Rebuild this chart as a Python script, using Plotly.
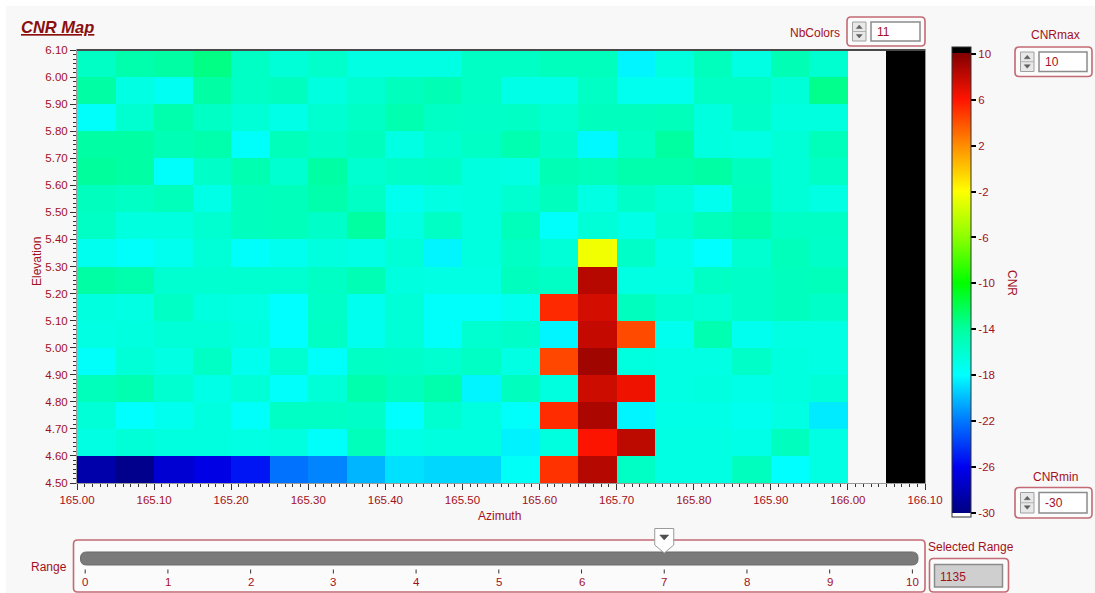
import plotly.graph_objects as go

# ---------------- data ----------------
azimuth_edges = [165.00, 165.05, 165.10, 165.15, 165.20, 165.25, 165.30, 165.35, 165.40, 165.45,
                 165.50, 165.55, 165.60, 165.65, 165.70, 165.75, 165.80, 165.85, 165.90, 165.95,
                 166.00, 166.05, 166.10]
elevation_edges = [4.50, 4.60, 4.70, 4.80, 4.90, 5.00, 5.10, 5.20, 5.30, 5.40,
                   5.50, 5.60, 5.70, 5.80, 5.90, 6.00, 6.10]

# CNR (dB) per cell, rows listed from top (6.00-6.10) to bottom (4.50-4.60),
# 20 azimuth bins from 165.00 to 166.00
cnr_rows_top_down = [
    [-15.5, -14.5, -14.2, -13.3, -15.5, -16.3, -15.8, -16.8, -16.8, -16.8, -15.5, -15.5, -15.2, -15.2, -18.3, -16.6, -15.2, -16.8, -14.9, -16.0],
    [-14.2, -16.8, -17.5, -14.2, -15.5, -15.3, -16.6, -16.0, -15.3, -14.9, -15.5, -17.0, -17.0, -15.5, -17.3, -17.3, -15.5, -15.5, -16.3, -13.5],
    [-17.8, -16.0, -14.5, -15.5, -16.3, -17.0, -16.0, -15.5, -14.7, -15.5, -15.7, -15.5, -16.0, -15.3, -15.3, -15.1, -16.6, -15.7, -16.6, -16.6],
    [-14.2, -14.2, -14.9, -14.5, -17.8, -15.1, -15.7, -15.3, -16.8, -16.0, -15.5, -14.7, -15.7, -18.2, -15.5, -14.0, -16.6, -16.8, -16.3, -15.1],
    [-13.9, -14.2, -17.8, -15.7, -14.7, -16.0, -14.2, -16.0, -15.7, -15.5, -16.6, -16.8, -14.9, -15.1, -14.5, -14.5, -14.2, -15.3, -16.3, -15.5],
    [-15.3, -15.5, -15.1, -17.0, -15.3, -15.1, -14.5, -15.5, -17.3, -16.8, -16.6, -16.0, -15.3, -16.8, -15.7, -16.3, -17.3, -15.1, -16.3, -16.8],
    [-15.5, -16.6, -16.6, -16.0, -15.3, -15.1, -15.7, -14.0, -16.8, -15.5, -16.6, -15.1, -17.8, -16.3, -17.0, -16.0, -15.1, -14.5, -15.5, -15.5],
    [-17.3, -17.8, -17.3, -16.3, -17.8, -17.3, -16.6, -17.0, -16.3, -18.3, -16.6, -15.5, -16.3, -2.5, -15.7, -17.0, -18.0, -16.0, -15.1, -15.7],
    [-14.2, -14.5, -16.0, -16.0, -16.0, -16.0, -15.5, -14.9, -16.6, -16.8, -16.8, -15.3, -15.5, 8.3, -16.8, -16.8, -15.5, -15.7, -15.3, -15.1],
    [-16.6, -16.8, -15.5, -16.6, -16.8, -18.0, -15.7, -17.3, -16.3, -17.8, -17.8, -17.3, 5.3, 7.4, -15.3, -16.0, -16.3, -15.7, -15.3, -15.7],
    [-16.8, -16.6, -16.3, -16.3, -16.6, -18.0, -15.5, -17.3, -16.3, -17.8, -16.0, -15.7, -18.3, 7.9, 4.2, -17.3, -14.7, -17.3, -16.8, -16.8],
    [-17.8, -16.3, -16.8, -15.5, -17.3, -16.0, -17.8, -15.5, -15.7, -16.0, -15.5, -16.8, 4.3, 9.0, -16.6, -16.8, -16.8, -15.7, -16.6, -16.8],
    [-15.1, -14.7, -16.0, -17.0, -16.3, -17.8, -16.3, -14.5, -15.3, -14.5, -18.3, -15.3, -16.6, 7.6, 6.5, -16.8, -16.6, -17.0, -16.6, -16.3],
    [-16.3, -18.0, -17.3, -16.6, -17.8, -15.5, -15.5, -15.7, -18.0, -16.0, -16.6, -17.8, 5.2, 8.7, -18.3, -17.0, -17.0, -17.3, -16.8, -18.6],
    [-16.8, -16.3, -16.6, -16.6, -16.8, -16.6, -17.8, -15.1, -17.0, -16.6, -16.6, -18.4, -16.6, 6.1, 8.1, -16.8, -16.8, -17.0, -15.3, -16.8],
    [-28.5, -29.6, -27.1, -26.4, -25.3, -22.2, -21.6, -20.2, -18.9, -19.2, -19.2, -17.6, 5.0, 8.4, -15.5, -16.8, -16.8, -15.3, -18.0, -16.8],
]
# extra bins: 166.00-166.05 has no data, 166.05-166.10 is above CNRmax
extra_bins = [None, 99.0]

azimuth_ticks = ["165.00", "165.10", "165.20", "165.30", "165.40", "165.50", "165.60",
                 "165.70", "165.80", "165.90", "166.00", "166.10"]
elevation_ticks = ["4.50", "4.60", "4.70", "4.80", "4.90", "5.00", "5.10", "5.20",
                   "5.30", "5.40", "5.50", "5.60", "5.70", "5.80", "5.90", "6.00", "6.10"]
cbar_ticks = [10, 6, 2, -2, -6, -10, -14, -18, -22, -26, -30]
cbar_colors = ["#820000", "#ff1400", "#ff8c00", "#ffff00", "#8cff00", "#00ff00",
               "#00ffa0", "#00ffff", "#0078ff", "#0000f0", "#000082"]
nb_colors = 11
cnr_max = 10
cnr_min = -30
range_ticks = [0, 1, 2, 3, 4, 5, 6, 7, 8, 9, 10]
range_value = 7
selected_range = 1135

# ---------------- layout helpers ----------------
W, H = 1095, 593
L, R, T, B = 77, 925, 50, 483
RED = "#a3101c"
FONT = "Liberation Sans"


def px(x):
    return (x - L) / (R - L)


def py(y):
    return (B - y) / (B - T)


def rrect_path(x0, y0, x1, y1, r):
    pts = [("M", x0 + r, y0), ("L", x1 - r, y0), ("Q", x1, y0, x1, y0 + r),
           ("L", x1, y1 - r), ("Q", x1, y1, x1 - r, y1), ("L", x0 + r, y1),
           ("Q", x0, y1, x0, y1 - r), ("L", x0, y0 + r), ("Q", x0, y0, x0 + r, y0)]
    s = ""
    for p in pts:
        cmd = p[0]
        coords = p[1:]
        parts = []
        for i in range(0, len(coords), 2):
            parts.append(f"{px(coords[i]):.5f},{py(coords[i + 1]):.5f}")
        s += cmd + " " + " ".join(parts) + " "
    return s + "Z"


def poly_path(points):
    return "M " + " L ".join(f"{px(x):.5f},{py(y):.5f}" for x, y in points) + " Z"


shapes = []
annotations = []


def add_shape_path(path, fill, line, width=1):
    shapes.append(dict(type="path", xref="paper", yref="paper", path=path,
                       fillcolor=fill, line=dict(color=line, width=width), layer="above"))


def add_rect(x0, y0, x1, y1, fill, line, width=1):
    shapes.append(dict(type="rect", xref="paper", yref="paper",
                       x0=px(x0), x1=px(x1), y0=py(y1), y1=py(y0),
                       fillcolor=fill, line=dict(color=line, width=width), layer="above"))


def add_line(x0, y0, x1, y1, color, width=1):
    shapes.append(dict(type="line", xref="paper", yref="paper",
                       x0=px(x0), x1=px(x1), y0=py(y0), y1=py(y1),
                       line=dict(color=color, width=width), layer="above"))


def add_text(text, x, y, xanchor="center", size=11.5, color=RED, angle=0, **kw):
    annotations.append(dict(text=text, x=px(x), y=py(y), xref="paper", yref="paper",
                            xanchor=xanchor, yanchor="middle", showarrow=False,
                            textangle=angle, font=dict(family=FONT, size=size, color=color), **kw))


def spin_control(fx0, fy0, fx1, fy1, value):
    add_shape_path(rrect_path(fx0, fy0, fx1, fy1, 4), "#fbfbfb", "#c46a74", 1.6)
    sx0, sx1 = fx0 + 5.5, fx0 + 19
    sy0, sy1 = fy0 + 5, fy1 - 5
    add_rect(sx0, sy0, sx1, sy1, "#e8e8e8", "#a0a0a0", 1)
    mid = (sy0 + sy1) / 2
    add_line(sx0, mid, sx1, mid, "#b0b0b0", 1)
    cx = (sx0 + sx1) / 2
    add_shape_path(poly_path([(cx - 3, mid - 3), (cx + 3, mid - 3), (cx, mid - 6.5)]), "#606060", "#606060", 0.5)
    add_shape_path(poly_path([(cx - 3, mid + 3), (cx + 3, mid + 3), (cx, mid + 6.5)]), "#606060", "#606060", 0.5)
    tx0 = sx1 + 5
    add_rect(tx0, sy0, fx1 - 5, sy1, "#ffffff", "#8c8c8c", 1.5)
    add_text(str(value), tx0 + 4, mid + 0.5, xanchor="left", size=12)


# ---------------- heatmap ----------------
zmin, zmax = -30.35, 10.55


def pos(v):
    return (v - zmin) / (zmax - zmin)


colorscale = [[0.0, "#ffffff"], [pos(cnr_min), "#ffffff"]]
for v, c in sorted(zip(cbar_ticks, cbar_colors)):
    colorscale.append([pos(v), c])
colorscale += [[pos(cnr_max), "#000000"], [1.0, "#000000"]]

z = [row + extra_bins for row in reversed(cnr_rows_top_down)]

fig = go.Figure()
fig.add_trace(go.Heatmap(
    x=azimuth_edges, y=elevation_edges, z=z,
    zmin=zmin, zmax=zmax, colorscale=colorscale, hoverongaps=False,
    colorbar=dict(
        xref="paper", yref="paper",
        x=px(951.5), xanchor="left", y=py(47.3), yanchor="top",
        len=470, lenmode="pixels", thickness=19, thicknessmode="pixels",
        xpad=0, ypad=0, outlinewidth=1, outlinecolor="#333333", borderwidth=0,
        tickmode="array", tickvals=cbar_ticks, ticktext=[str(v) for v in cbar_ticks],
        ticks="outside", ticklen=5, tickcolor="#000000", tickwidth=1.5,
        tickfont=dict(family=FONT, size=11.5, color=RED),
    ),
))

fig.update_xaxes(
    range=[azimuth_edges[0], azimuth_edges[-1]], tickmode="array",
    tickvals=[float(t) for t in azimuth_ticks], ticktext=azimuth_ticks,
    ticks="outside", ticklen=6, tickwidth=1, tickcolor="#333333",
    minor=dict(tickmode="linear", tick0=165.0, dtick=0.01, ticks="outside", ticklen=3,
               tickcolor="#333333", showgrid=False),
    showgrid=False, zeroline=False, showline=True, linecolor="#9a9a9a", linewidth=1, mirror=True,
    tickfont=dict(family=FONT, size=11.5, color=RED),
)
fig.update_yaxes(
    range=[elevation_edges[0], elevation_edges[-1]], tickmode="array",
    tickvals=[float(t) for t in elevation_ticks], ticktext=elevation_ticks,
    ticks="outside", ticklen=6, tickwidth=1, tickcolor="#333333",
    minor=dict(tickmode="linear", tick0=4.5, dtick=0.1 / 6, ticks="outside", ticklen=3,
               tickcolor="#333333", showgrid=False),
    showgrid=False, zeroline=False, showline=True, linecolor="#9a9a9a", linewidth=1, mirror=True,
    tickfont=dict(family=FONT, size=11.5, color=RED),
)

# top dark border of the plot
add_line(L, T, R, T, "#4a4a4a", 2)

# page edge highlights
add_rect(0, 0, W, 6, "#ffffff", "rgba(0,0,0,0)", 0)
add_rect(0, 0, 6, H, "#ffffff", "rgba(0,0,0,0)", 0)

# ---------------- texts ----------------
add_text("<b><i><u>CNR Map</u></i></b>", 19.5, 26.5, xanchor="left", size=16.5, color="#8a0f0f")
add_text("Elevation", 37, 262, angle=-90, size=12)
add_text("Azimuth", 499, 516, size=12)
add_text("CNR", 1012, 283, angle=90, size=12)

# NbColors control
add_text("NbColors", 842, 33.5, xanchor="right", size=12)
spin_control(847, 17, 925, 46, nb_colors)
# CNRmax control
add_text("CNRmax", 1055, 35, size=12)
spin_control(1015, 47, 1092, 76.5, cnr_max)
# CNRmin control
add_text("CNRmin", 1055, 477, size=12)
spin_control(1015, 487.5, 1092, 518, cnr_min)

# ---------------- range slider ----------------
S0, S1 = 85.2, 912.4


def sx(v):
    return S0 + (v - range_ticks[0]) * (S1 - S0) / (range_ticks[-1] - range_ticks[0])


add_text("Range", 69, 567, xanchor="right", size=12)
add_shape_path(rrect_path(73.5, 540, 925, 592, 4), "#fbfbfb", "#c46a74", 1.6)
add_shape_path(rrect_path(80.5, 552, 918, 565, 6), "#7a7a7a", "#6c6c6c", 1)
for v in range_ticks:
    add_line(sx(v), 569.5, sx(v), 573.5, "#333333", 1)
    add_text(str(v), sx(v), 582, size=11.5)
tx = sx(range_value)
add_shape_path(poly_path([(tx - 9.5, 528.5), (tx + 9.5, 528.5), (tx + 9.5, 545),
                          (tx, 553), (tx - 9.5, 545)]), "#ffffff", "#9a9a9a", 1)
add_shape_path(poly_path([(tx - 4.5, 535), (tx + 4.5, 535), (tx, 540)]), "#505050", "#505050", 0.5)

# selected range indicator
add_text("Selected Range", 970.5, 547, size=12)
add_shape_path(rrect_path(929.5, 558.5, 1008.5, 592, 4), "#fbfbfb", "#c46a74", 1.6)
add_rect(934.5, 564.5, 1002.5, 587, "#cfcfcf", "#8c8c8c", 1.5)
add_text(str(selected_range), 938, 576.5, xanchor="left", size=12)

fig.update_layout(
    width=W, height=H, autosize=False,
    margin=dict(l=L, r=W - R, t=T, b=H - B, pad=0),
    paper_bgcolor="#f8f8f8", plot_bgcolor="#f8f8f8",
    shapes=shapes, annotations=annotations, showlegend=False,
    font=dict(family=FONT, size=12, color=RED),
)

fig.write_html("out.html")
